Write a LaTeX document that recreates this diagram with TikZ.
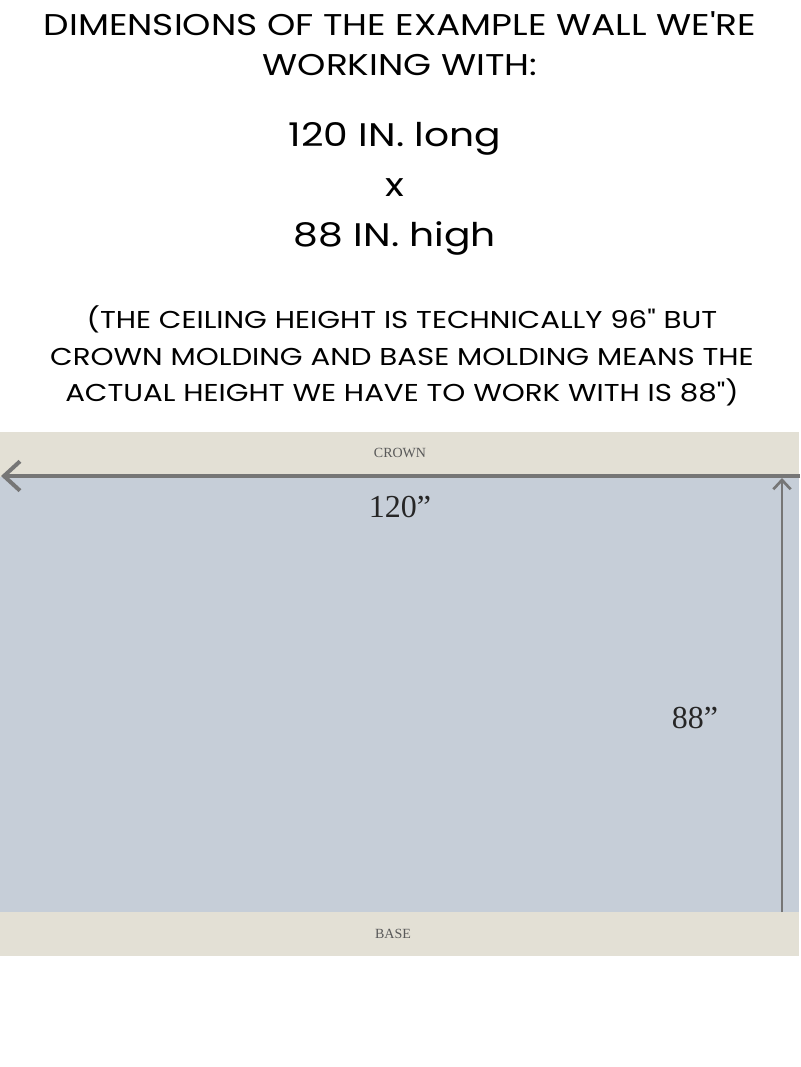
\documentclass[tikz,border=0pt]{standalone}
\usepackage{fontspec}
\setmainfont{Liberation Serif}
\newfontfamily\headfont[FakeStretch=1.2]{Poppins}
\usetikzlibrary{arrows.meta}
\definecolor{band}{HTML}{E3E0D5}
\definecolor{wall}{HTML}{C6CED8}
\definecolor{arrowgray}{HTML}{767676}
\begin{document}
\begin{tikzpicture}[x=0.75pt,y=-0.75pt,
  headtxt/.style={text=black, align=center, inner sep=0pt},
  dimtxt/.style={font=\fontsize{24}{28}\selectfont, text=black!85, inner sep=0pt},
  bandtxt/.style={font=\fontsize{10.5}{12}\selectfont, text=black!65, inner sep=0pt},
  harrow/.style={draw=arrowgray, line width=3pt, -{Straight Barb[length=12pt, width=22pt, line width=3pt]}},
  varrow/.style={draw=arrowgray, line width=2.2pt, -{Straight Barb[length=7pt, width=13pt, line width=2pt]}}]
\useasboundingbox (0,0) rectangle (800,1067);
\fill[white] (0,0) rectangle (800,1067);
% bands and wall
\fill[band] (0,432) rectangle (799,477);
\fill[wall] (0,477) rectangle (799,912);
\fill[band] (0,912) rectangle (799,956);
% texts
\node[headtxt, font=\headfont\fontsize{22.5}{30}\selectfont] (title) at (400,44)
  {DIMENSIONS OF THE EXAMPLE WALL WE'RE\\WORKING WITH:};
\node[headtxt, font=\headfont\fontsize{24.5}{37.5}\selectfont] (size) at (395,189)
  {120 IN. long\\x\\88 IN. high};
\node[headtxt, font=\headfont\fontsize{18.3}{27.5}\selectfont] (note) at (402,356)
  {(THE CEILING HEIGHT IS TECHNICALLY 96" BUT\\CROWN MOLDING AND BASE MOLDING MEANS THE\\ACTUAL HEIGHT WE HAVE TO WORK WITH IS 88")};
\node[bandtxt] (crown) at (400,453) {CROWN};
\node[bandtxt] (base) at (393,934) {BASE};
\node[dimtxt] (len) at (400,507) {120”};
\node[dimtxt] (hgt) at (695,718) {88”};
% arrows
\coordinate (hR) at (800,476);
\coordinate (hL) at (1,476);
\coordinate (vB) at (782,912);
\coordinate (vT) at (782,478);
\draw[harrow] (hR) -- (hL);
\draw[varrow] (vB) -- (vT);
\end{tikzpicture}
\end{document}
